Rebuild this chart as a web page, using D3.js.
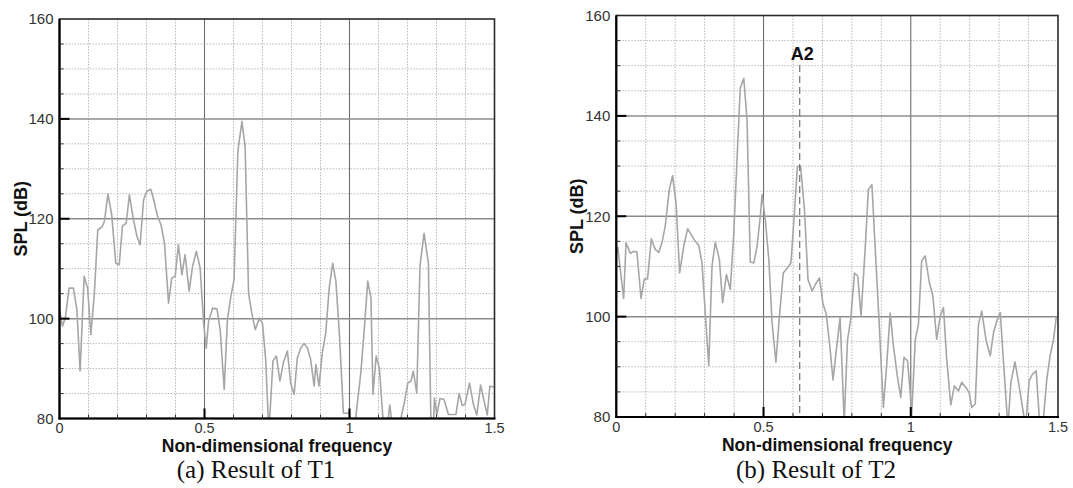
<!DOCTYPE html>
<html>
<head>
<meta charset="utf-8">
<script src="https://cdn.jsdelivr.net/npm/d3@7"></script>
<style>
  html, body { margin: 0; padding: 0; background: #fff; }
  svg { display: block; }
</style>
</head>
<body>
<svg id="fig" width="1073" height="488"></svg>
<script>
// Spectra: non-dimensional frequency vs SPL (dB). Values below 80 dB fall off the plot.
const t1Freq = [0.000,0.010,0.020,0.033,0.048,0.060,0.071,0.085,0.097,0.108,0.120,0.132,0.146,0.155,0.167,0.180,0.194,0.206,0.217,0.230,0.241,0.255,0.267,0.278,0.290,0.301,0.315,0.326,0.338,0.350,0.362,0.376,0.387,0.399,0.410,0.422,0.433,0.447,0.459,0.472,0.485,0.497,0.506,0.514,0.528,0.543,0.554,0.568,0.579,0.591,0.602,0.615,0.629,0.640,0.652,0.663,0.675,0.689,0.700,0.711,0.722,0.736,0.748,0.760,0.772,0.786,0.797,0.809,0.820,0.832,0.843,0.855,0.866,0.878,0.884,0.895,0.906,0.918,0.930,0.942,0.953,0.965,0.979,0.994,1.000,1.005,1.020,1.039,1.050,1.063,1.074,1.081,1.092,1.103,1.115,1.125,1.139,1.150,1.170,1.190,1.201,1.212,1.220,1.232,1.243,1.257,1.272,1.281,1.288,1.293,1.301,1.312,1.326,1.341,1.358,1.367,1.378,1.389,1.398,1.414,1.427,1.439,1.452,1.464,1.475,1.484,1.496,1.500];
const t1Spl  = [102.0,98.5,100.1,106.1,106.1,101.8,89.5,108.5,106.1,96.8,104.8,117.8,118.3,119.5,125.0,120.8,111.1,110.8,118.5,119.1,124.8,119.8,116.5,114.8,123.8,125.5,125.9,123.5,120.5,118.8,115.1,103.1,108.1,108.5,114.8,108.8,112.8,105.5,110.5,113.5,110.1,99.1,94.1,99.5,102.1,101.9,97.8,85.8,99.8,104.5,107.8,133.5,139.5,134.5,105.1,101.1,97.8,100.1,99.0,91.8,77.0,91.5,92.5,87.5,91.2,93.5,87.1,84.8,92.1,94.1,95.0,94.1,91.8,86.5,90.8,86.5,93.1,97.1,106.1,111.1,107.5,97.1,81.1,81.0,81.5,78.0,79.5,89.1,97.1,107.5,104.1,84.8,92.5,90.1,80.3,76.0,82.7,77.0,78.0,83.5,87.1,87.5,89.5,85.1,110.5,117.1,111.1,78.0,76.0,84.1,80.7,84.0,83.8,80.8,80.8,80.8,85.0,82.6,82.8,87.1,82.9,80.7,86.7,83.5,80.7,86.5,86.3,86.3];

const t2Freq = [0.000,0.005,0.025,0.033,0.048,0.059,0.070,0.084,0.095,0.106,0.119,0.132,0.144,0.155,0.166,0.180,0.191,0.203,0.215,0.229,0.242,0.254,0.268,0.280,0.291,0.302,0.314,0.325,0.336,0.350,0.361,0.374,0.387,0.399,0.410,0.421,0.433,0.444,0.455,0.467,0.478,0.489,0.495,0.506,0.518,0.529,0.542,0.554,0.567,0.581,0.593,0.605,0.615,0.626,0.639,0.651,0.665,0.678,0.690,0.702,0.713,0.725,0.736,0.747,0.760,0.774,0.785,0.796,0.809,0.820,0.831,0.845,0.856,0.868,0.879,0.892,0.907,0.918,0.930,0.941,0.955,0.966,0.977,0.989,0.998,1.003,1.015,1.026,1.037,1.049,1.063,1.075,1.088,1.100,1.111,1.122,1.136,1.148,1.162,1.173,1.187,1.198,1.207,1.219,1.230,1.241,1.256,1.270,1.281,1.292,1.304,1.315,1.330,1.340,1.354,1.368,1.382,1.390,1.402,1.413,1.426,1.436,1.448,1.462,1.473,1.485,1.494,1.500];
const t2Spl  = [112.5,113.8,103.6,114.7,112.6,113.0,112.9,103.6,107.5,107.5,115.5,113.4,112.8,114.7,118.0,125.3,128.1,122.6,108.7,114.0,117.5,116.4,115.0,114.2,110.7,100.8,90.2,110.1,114.8,111.4,102.8,108.4,105.4,116.7,131.3,145.5,147.5,139.2,110.9,110.7,114.0,120.0,124.3,119.3,111.4,98.8,90.9,100.1,108.7,109.7,110.7,120.7,129.9,129.9,121.3,107.4,105.1,106.6,107.7,102.5,100.5,94.2,87.4,93.2,99.8,79.0,95.2,99.5,108.7,108.1,100.1,113.4,125.3,126.3,114.0,99.5,81.9,90.2,100.7,94.2,87.9,83.9,91.9,91.2,84.9,80.3,95.2,98.5,111.1,112.1,106.8,104.1,95.5,100.1,101.8,91.5,82.4,86.2,85.2,86.9,85.9,84.9,81.9,82.6,98.5,101.1,95.2,92.2,96.8,99.1,100.8,90.9,78.0,86.9,91.0,86.2,80.9,78.0,87.2,88.5,89.2,80.3,78.0,87.5,92.2,95.5,99.8,100.0];

const xTickLabels = ["0", "0.5", "1", "1.5"];
const yTickLabels = ["80", "100", "120", "140", "160"];
const xMajor = [0, 0.5, 1, 1.5];
const yMajor = [80, 100, 120, 140, 160];
const xMinor = [0.1, 0.2, 0.3, 0.4, 0.6, 0.7, 0.8, 0.9, 1.1, 1.2, 1.3, 1.4];
const yMinor = [85, 90, 95, 105, 110, 115, 125, 130, 135, 145, 150, 155];
const markerFreq = 0.623;
const markerLabel = "A2";
const captions = ["(a) Result of T1", "(b) Result of T2"];
const xTitle = "Non-dimensional frequency";
const yTitle = "SPL (dB)";

const panels = [
  { id: "p1", freq: t1Freq, spl: t1Spl, left: 59.5, right: 494.5, top: 19, bottom: 418.5, capX: 256, ylabX: 27, marker: false, caption: captions[0] },
  { id: "p2", freq: t2Freq, spl: t2Spl, left: 616.3, right: 1058, top: 15.5, bottom: 417, capX: 816, ylabX: 583, marker: true, caption: captions[1] }
];

const svg = d3.select("#fig");
const sans = "'Liberation Sans', Arial, Helvetica, sans-serif";
const serif = "'Liberation Serif', 'Times New Roman', Times, serif";

panels.forEach(p => {
  const x = d3.scaleLinear().domain([0, 1.5]).range([p.left, p.right]);
  const y = d3.scaleLinear().domain([80, 160]).range([p.bottom, p.top]);
  const g = svg.append("g");

  // minor grid (dotted)
  g.selectAll(".vminor").data(xMinor).join("line")
    .attr("x1", d => x(d)).attr("x2", d => x(d))
    .attr("y1", p.top).attr("y2", p.bottom)
    .attr("stroke", "#b8b8b8").attr("stroke-width", 1).attr("stroke-dasharray", "1.5,1.5");
  g.selectAll(".hminor").data(yMinor).join("line")
    .attr("x1", p.left).attr("x2", p.right)
    .attr("y1", d => y(d)).attr("y2", d => y(d))
    .attr("stroke", "#b8b8b8").attr("stroke-width", 1).attr("stroke-dasharray", "1.5,1.5");

  // major grid (solid)
  g.selectAll(".vmajor").data(xMajor.slice(1, -1)).join("line")
    .attr("x1", d => x(d)).attr("x2", d => x(d))
    .attr("y1", p.top).attr("y2", p.bottom)
    .attr("stroke", "#6e6e6e").attr("stroke-width", 1.1);
  g.selectAll(".hmajor").data(yMajor.slice(1, -1)).join("line")
    .attr("x1", p.left).attr("x2", p.right)
    .attr("y1", d => y(d)).attr("y2", d => y(d))
    .attr("stroke", "#8c8c8c").attr("stroke-width", 1.5);

  // spectrum line, clipped to the plotting area
  svg.append("clipPath").attr("id", "clip-" + p.id)
    .append("rect").attr("x", p.left).attr("y", p.top)
    .attr("width", p.right - p.left).attr("height", p.bottom - p.top);
  const pts = p.freq.map((f, i) => [f, p.spl[i]]);
  g.append("path")
    .datum(pts)
    .attr("clip-path", "url(#clip-" + p.id + ")")
    .attr("fill", "none")
    .attr("stroke", "#a6a6a6")
    .attr("stroke-width", 1.6)
    .attr("stroke-linejoin", "round")
    .attr("d", d3.line().x(d => x(d[0])).y(d => y(d[1])));

  // A2 marker
  if (p.marker) {
    g.append("line")
      .attr("x1", x(markerFreq)).attr("x2", x(markerFreq))
      .attr("y1", 65).attr("y2", p.bottom)
      .attr("stroke", "#555").attr("stroke-width", 1).attr("stroke-dasharray", "7,4");
    g.append("text")
      .attr("x", x(markerFreq) + 2.5).attr("y", 60)
      .attr("text-anchor", "middle")
      .attr("font-family", sans).attr("font-weight", "bold").attr("font-size", 18)
      .attr("fill", "#111")
      .text(markerLabel);
  }

  // frame
  g.append("rect")
    .attr("x", p.left).attr("y", p.top)
    .attr("width", p.right - p.left).attr("height", p.bottom - p.top)
    .attr("fill", "none").attr("stroke", "#2a2a2a").attr("stroke-width", 1.6);
  g.append("line").attr("x1", p.left).attr("x2", p.left).attr("y1", p.top).attr("y2", p.bottom + 1)
    .attr("stroke", "#000").attr("stroke-width", 2.2);
  g.append("line").attr("x1", p.left - 1).attr("x2", p.right + 1).attr("y1", p.bottom).attr("y2", p.bottom)
    .attr("stroke", "#000").attr("stroke-width", 2.2);

  // tick marks
  g.selectAll(".ytk").data(yMajor.slice(1, -1)).join("line")
    .attr("x1", p.left).attr("x2", p.left + 10)
    .attr("y1", d => y(d)).attr("y2", d => y(d))
    .attr("stroke", "#000").attr("stroke-width", 2);
  g.selectAll(".xtk").data(xMajor.slice(1, -1)).join("line")
    .attr("x1", d => x(d)).attr("x2", d => x(d))
    .attr("y1", p.bottom).attr("y2", p.bottom - 10)
    .attr("stroke", "#000").attr("stroke-width", 2);
  g.selectAll(".ytkm").data(yMinor).join("line")
    .attr("x1", p.left).attr("x2", p.left + 4)
    .attr("y1", d => y(d)).attr("y2", d => y(d))
    .attr("stroke", "#333").attr("stroke-width", 1);
  g.selectAll(".xtkm").data(xMinor).join("line")
    .attr("x1", d => x(d)).attr("x2", d => x(d))
    .attr("y1", p.bottom).attr("y2", p.bottom - 4)
    .attr("stroke", "#333").attr("stroke-width", 1);

  // tick labels
  g.selectAll(".ylab").data(yMajor).join("text")
    .attr("x", p.left - 6).attr("y", d => y(d))
    .attr("dy", "0.36em")
    .attr("text-anchor", "end")
    .attr("font-family", sans).attr("font-size", 15).attr("fill", "#333")
    .text((d, i) => yTickLabels[i]);
  g.selectAll(".xlab").data(xMajor).join("text")
    .attr("x", d => x(d)).attr("y", p.bottom + 14.5)
    .attr("text-anchor", "middle")
    .attr("font-family", sans).attr("font-size", 14.5).attr("fill", "#333")
    .text((d, i) => xTickLabels[i]);

  // axis titles
  g.append("text")
    .attr("x", (p.left + p.right) / 2).attr("y", p.bottom + 33.5)
    .attr("text-anchor", "middle")
    .attr("font-family", sans).attr("font-weight", "bold").attr("font-size", 17.5).attr("fill", "#111")
    .text(xTitle);
  g.append("text")
    .attr("transform", `translate(${p.ylabX},${(p.top + p.bottom) / 2}) rotate(-90)`)
    .attr("text-anchor", "middle")
    .attr("font-family", sans).attr("font-weight", "bold").attr("font-size", 18).attr("fill", "#111")
    .text(yTitle);

  // caption
  g.append("text")
    .attr("x", p.capX).attr("y", 478)
    .attr("text-anchor", "middle")
    .attr("font-family", serif).attr("font-size", 25).attr("fill", "#111")
    .text(p.caption);
});
</script>
</body>
</html>
